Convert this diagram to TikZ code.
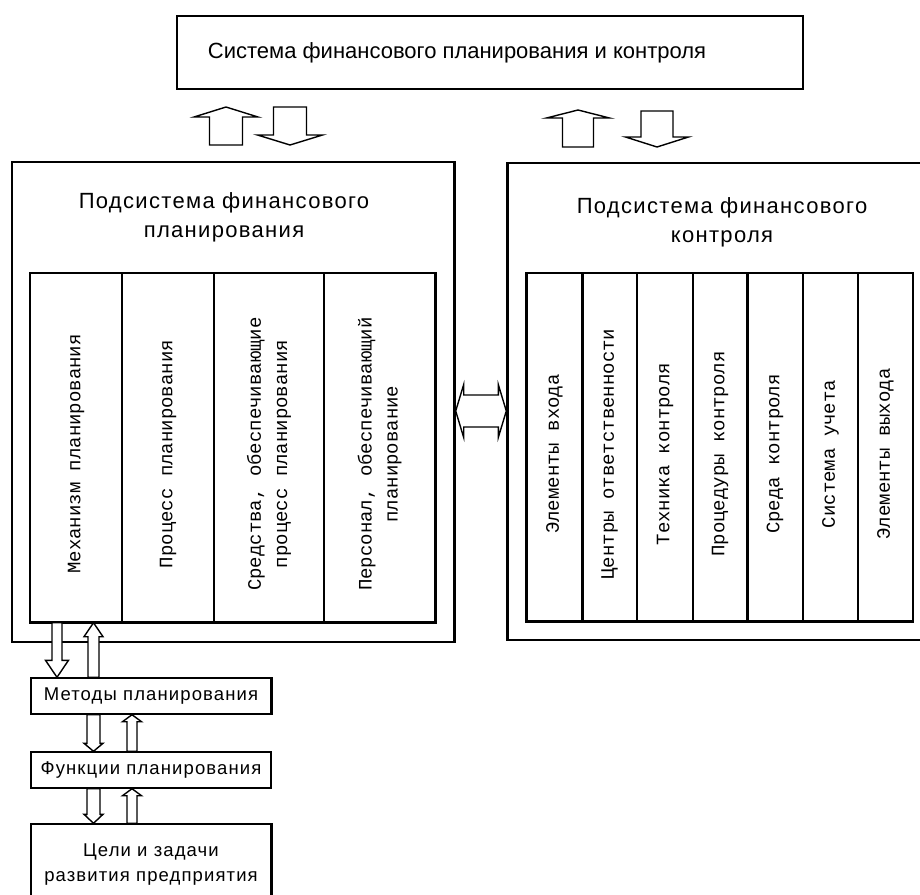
\documentclass[tikz,border=0pt]{standalone}
\usepackage{fontspec}
\setmainfont{Liberation Sans}
\newfontfamily\topfont{Liberation Sans}
\newfontfamily\boxfont[LetterSpace=6]{Liberation Sans}
\newfontfamily\colfont{Liberation Mono}
\usetikzlibrary{calc}

% block arrow: from, to, shaft half width, head half width, head length
\newcommand{\blkarrow}[5]{%
   \coordinate (ba-s) at (#1);
   \coordinate (ba-t) at (#2);
   \coordinate (ba-h) at ($(ba-t)!#5!(ba-s)$);
   \draw[blockarr] ($(ba-s)!#3!90:(ba-t)$) -- ($(ba-h)!#3!90:(ba-t)$) -- ($(ba-h)!#4!90:(ba-t)$)
      -- (ba-t) -- ($(ba-h)!#4!-90:(ba-t)$) -- ($(ba-h)!#3!-90:(ba-t)$) -- ($(ba-s)!#3!-90:(ba-t)$) -- cycle;
}

\begin{document}
\begin{tikzpicture}[x=1pt,y=-1pt,
   box/.style={draw,rectangle,line width=1.4pt,inner sep=0pt},
   col/.style={draw,rectangle,line width=1.4pt,inner sep=0pt},
   coltext/.style={rotate=90,align=center,font=\colfont\fontsize{19}{26}\selectfont},
   heading/.style={align=center,font=\boxfont\fontsize{22}{29}\selectfont},
   small/.style={align=center,font=\boxfont\fontsize{18.5}{25}\selectfont},
   heavy/.style={line width=2.8pt},
   blockarr/.style={draw,line width=1.4pt,fill=white,line join=miter}]
   \useasboundingbox (0,0) rectangle (920,894);
   % main boxes
   \node[box,minimum width=626pt,minimum height=73pt] (sys) at (490,52.5) {};
   \node[font=\topfont\fontsize{22}{26}\selectfont] (systxt) at (457,52.5) {Система финансового планирования и контроля};
   \node[box,minimum width=442pt,minimum height=480pt] (plan) at (233,402) {};
   \node[heading] (plantxt) at (224,217.5) {Подсистема финансового\\планирования};
   \node[box,minimum width=424pt,minimum height=477pt] (ctrl) at (720,401.5) {};
   \node[heading] (ctrltxt) at (722,222.5) {Подсистема финансового\\контроля};
   % columns of the planning subsystem
   \foreach \n/\x/\w/\txt in {1/76/92/{Механизм планирования},2/168/92/{Процесс планирования},
      3/269/110/{Средства, обеспечивающие\\процесс планирования},4/379.5/111/{Персонал, обеспечивающий\\планирование}}{
      \node[col,minimum width=\w pt,minimum height=349pt] (p\n) at (\x,447.5) {};
      \node[coltext] (pt\n) at ($(p\n)+(0,6.5)$) {\txt};
   }
   % columns of the control subsystem
   \foreach \n/\x/\w/\txt in {1/554.5/55/{Элементы входа},2/609.5/55/{Центры ответственности},
      3/665/56/{Техника контроля},4/720/54/{Процедуры контроля},5/775/56/{Среда контроля},
      6/830.5/55/{Система учета},7/885.5/55/{Элементы выхода}}{
      \node[col,minimum width=\w pt,minimum height=348pt] (c\n) at (\x,447) {};
      \node[coltext] (ct\n) at ($(c\n)+(0,7)$) {\txt};
   }
   % heavier edges
   \draw[heavy] (p4.north east) -- (p4.south east) -- (p1.south west);
   \draw[heavy] (plan.north east) -- (plan.south east);
   \draw[heavy] (ctrl.north west) -- (ctrl.south west);
   \draw[heavy] (c1.north west) -- (c1.south west) -- (c7.south east);
   \draw[heavy] (c1.north east) -- (c1.south east);
   \draw[heavy] (c4.north east) -- (c4.south east);
   % planning chain
   \node[box,small,minimum width=240pt,minimum height=36pt] (meth) at (151,696) {Методы планирования};
   \node[box,small,minimum width=240pt,minimum height=36pt] (func) at (151,770) {Функции планирования};
   \node[box,small,minimum width=240pt,minimum height=81pt] (goal) at (151,864.5) {Цели и задачи\\развития предприятия};
   \draw[heavy] (meth.north east) -- (meth.south east);
   \draw[heavy] (goal.north east) -- (goal.south east);
   % block arrows
   \blkarrow{226,145}{226,107}{16.5pt}{32pt}{10pt}
   \blkarrow{290,107}{290,145}{16.5pt}{32.5pt}{10pt}
   \blkarrow{578,147}{578,110}{15.5pt}{31.5pt}{8pt}
   \blkarrow{657,111}{657,147}{16pt}{31.5pt}{10pt}
   \coordinate (xa) at (57,0);
   \coordinate (xb) at (93.5,0);
   \coordinate (xc) at (132,0);
   \blkarrow{p1.south -| xa}{meth.north -| xa}{5pt}{11.5pt}{17pt}
   \blkarrow{meth.north -| xb}{p1.south -| xb}{5.5pt}{9.5pt}{14pt}
   \blkarrow{meth.south -| xb}{func.north -| xb}{6.5pt}{9.5pt}{8pt}
   \blkarrow{func.north -| xc}{meth.south -| xc}{5pt}{9.5pt}{7pt}
   \blkarrow{func.south -| xb}{goal.north -| xb}{6.5pt}{9.5pt}{9pt}
   \blkarrow{goal.north -| xc}{func.south -| xc}{5pt}{9.5pt}{7pt}
   % double arrow between the subsystems
   \coordinate (dl) at ($(plan.east)+(1,9)$);
   \coordinate (dr) at ($(ctrl.west |- dl)+(-1,0)$);
   \draw[blockarr] (dl) -- ++(8,-26.5) -- ++(0,10.5) -- ($(dr)+(-8,-16)$) -- ++(0,-10.5) -- (dr)
      -- ++(-8,26.5) -- ++(0,-10.5) -- ($(dl)+(8,16)$) -- ++(0,10.5) -- cycle;
\end{tikzpicture}
\end{document}
